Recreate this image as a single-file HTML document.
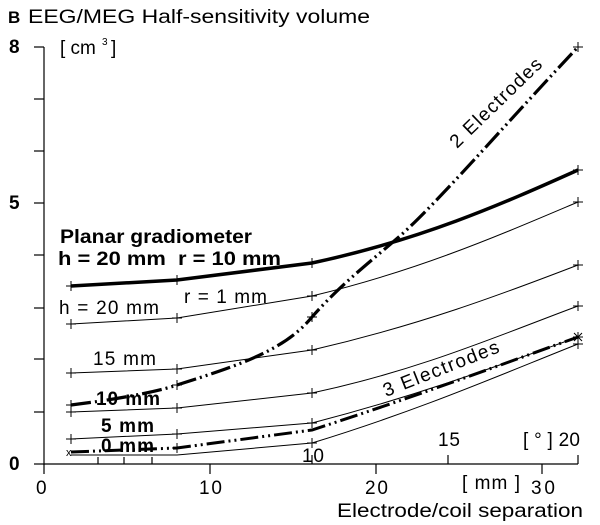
<!DOCTYPE html>
<html><head><meta charset="utf-8"><style>
body{margin:0;background:#fff}
svg{display:block}
text{font-family:"Liberation Sans",sans-serif;fill:#000}
</style></head><body>
<svg width="600" height="525" viewBox="0 0 600 525" xmlns="http://www.w3.org/2000/svg">
<text x="8" y="23" font-size="17" font-weight="bold">B</text>
<text x="28" y="23" font-size="19" textLength="342" lengthAdjust="spacingAndGlyphs">EEG/MEG Half-sensitivity volume</text>
<text x="60" y="54" font-size="19">[ cm</text><text x="102" y="45" font-size="10">3</text><text x="111" y="54" font-size="19">]</text>
<g font-size="19" font-weight="bold">
<text x="9" y="53">8</text><text x="9" y="209">5</text><text x="9" y="470">0</text></g>
<g stroke="#000" stroke-width="1.2" fill="none">
<line x1="44" y1="47" x2="44" y2="465"/>
<line x1="34" y1="47" x2="44" y2="47"/><line x1="34" y1="99" x2="44" y2="99"/><line x1="34" y1="151" x2="44" y2="151"/><line x1="34" y1="203" x2="44" y2="203"/><line x1="34" y1="255" x2="44" y2="255"/><line x1="34" y1="308" x2="44" y2="308"/><line x1="34" y1="359" x2="44" y2="359"/><line x1="34" y1="412" x2="44" y2="412"/><line x1="34" y1="464" x2="44" y2="464"/>
<line x1="44" y1="464" x2="578" y2="464"/>
<line x1="44" y1="464" x2="44" y2="474"/><line x1="210" y1="464" x2="210" y2="474"/><line x1="376" y1="464" x2="376" y2="474"/><line x1="542" y1="464" x2="542" y2="474"/>
<line x1="98" y1="464" x2="98" y2="457"/><line x1="124" y1="464" x2="124" y2="457"/><line x1="152" y1="464" x2="152" y2="457"/><line x1="312" y1="464" x2="312" y2="455"/><line x1="448" y1="464" x2="448" y2="455"/><line x1="578" y1="464" x2="578" y2="455"/>
</g>
<g font-size="19">
<text x="36" y="494">0</text><text x="199" y="494" textLength="23">10</text><text x="365" y="494" textLength="23">20</text><text x="531" y="494" textLength="24">30</text>
<text x="462" y="489" textLength="58">[ mm ]</text>
<text x="337" y="517" textLength="246" lengthAdjust="spacingAndGlyphs">Electrode/coil separation</text>
<text x="302" y="462" textLength="22">10</text><text x="438" y="446" textLength="22">15</text><text x="523" y="446" textLength="57">[ ° ] 20</text>
</g>
<g fill="none" stroke="#000">
<path d="M71,286 L177,280 L312,263 C420,240 500,205 578,170" stroke-width="3.5"/>
<path d="M71,324 L177,318 L312,296 C420,270 500,235 578,202" stroke-width="1"/>
<path d="M71,373 L177,369 L312,350 C420,325 500,295 578,265" stroke-width="1"/>
<path d="M71,412 L177,408 L312,393 C420,370 500,335 578,306" stroke-width="1"/>
<path d="M71,439 L177,434 L312,423 C420,395 500,365 578,337" stroke-width="1"/>
<path d="M71,455 L177,455 L312,443 C420,410 500,375 578,344" stroke-width="1"/>
<path d="M71,452 L177,448 L312,430 C420,395 500,365 578,337" stroke-width="3" stroke-dasharray="18,4,2,4,2,4"/>
<path d="M71,405 C120,399 160,391 177,385 C240,365 285,350 312,317 C340,285 370,262 400,236 C440,200 500,130 578,47" stroke-width="3.2" stroke-dasharray="20,4,2,4,2,4"/>
</g>
<g stroke="#000" stroke-width="1">
<path d="M66,286h10M71,281v10 M172,280h10M177,275v10 M307,263h10M312,258v10 M573,170h10M578,165v10"/>
<path d="M66,324h10M71,319v10 M172,318h10M177,313v10 M307,296h10M312,291v10 M573,202h10M578,197v10"/>
<path d="M66,373h10M71,368v10 M172,369h10M177,364v10 M307,350h10M312,345v10 M573,265h10M578,260v10"/>
<path d="M66,412h10M71,407v10 M172,408h10M177,403v10 M307,393h10M312,388v10 M573,306h10M578,301v10"/>
<path d="M66,439h10M71,434v10 M172,434h10M177,429v10 M307,423h10M312,418v10 M573,344h10M578,339v10"/>
<path d="M66,405h10M71,400v10 M172,385h10M177,380v10 M307,317h10M312,312v10 M573,47h10M578,42v10"/>
<path d="M172,448h10M177,443v10 M307,443h10M312,438v10 M573,337h10M578,332v10 M574,333l8,8M582,333l-8,8"/>
</g>
<text x="66" y="456" font-size="11">x</text>
<g font-size="19" font-weight="bold">
<text x="60" y="243" textLength="192" lengthAdjust="spacingAndGlyphs">Planar gradiometer</text>
<text x="58" y="265" textLength="223" lengthAdjust="spacingAndGlyphs">h = 20 mm&#160;&#160;r = 10 mm</text>
</g>
<g font-size="19">
<text x="184" y="303" textLength="83">r = 1 mm</text>
<text x="59" y="314" textLength="100">h = 20 mm</text>
<text x="93" y="365" textLength="63">15 mm</text>
<text transform="translate(386,397) rotate(-21.5)" textLength="123">3 Electrodes</text>
<text transform="translate(457,149) rotate(-44)" textLength="120">2 Electrodes</text>
</g>
<g font-size="19" font-weight="bold">
<text x="96" y="405" textLength="64">10 mm</text><text x="101" y="432" textLength="53">5 mm</text><text x="101" y="452" textLength="53">0 mm</text>
</g>
</svg>
</body></html>
